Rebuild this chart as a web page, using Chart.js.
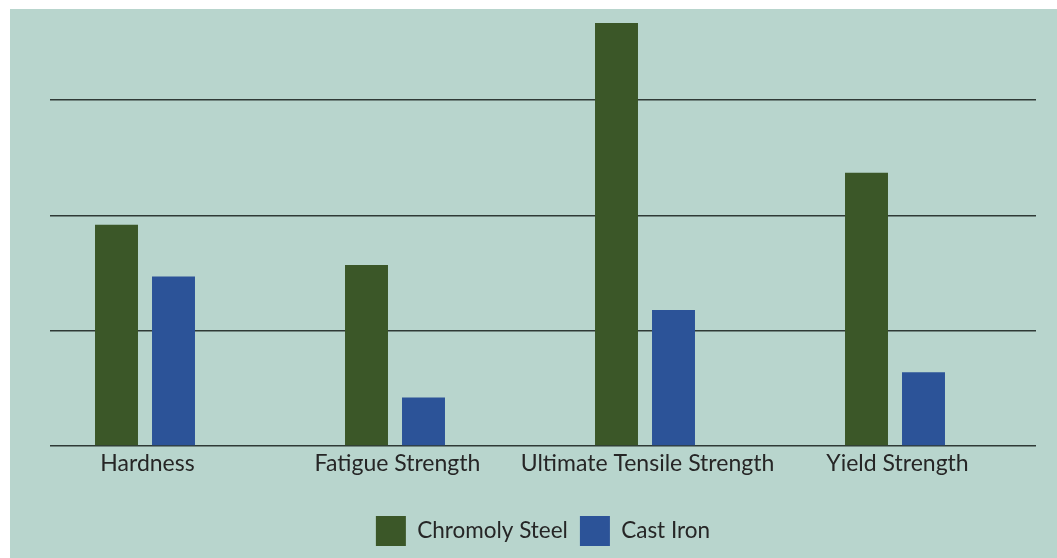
<!DOCTYPE html>
<html>
<head>
<meta charset="utf-8">
<script src="https://cdn.jsdelivr.net/npm/chart.js@4/dist/chart.umd.min.js"></script>
<style>
    html, body { margin: 0; padding: 0; background: #ffffff; }
    #wrap {
        position: absolute;
        left: 10px;
        top: 9px;
        width: 1047px;
        height: 549px;
        background: #b8d5cd;
    }
</style>
</head>
<body>
<div id="wrap"><canvas id="chart-canvas"></canvas></div>
<script>
const categories = ["Hardness", "Fatigue Strength", "Ultimate Tensile Strength", "Yield Strength"];
const chromolySteel = [192, 157, 367, 237];
const castIron = [147, 42, 118, 64];
const emptySeries = [null, null, null, null];
const yTicks = [0, 100, 200, 300];

// the category band is a bit wider than the gridlines (Excel leaves an empty 3rd slot)
const widenBand = {
    id: "widenBand",
    afterLayout(chart) {
        const x = chart.scales.x;
        x.left = 38.5;
        x.right = 1038.5;
        x.width = x.right - x.left;
        x.configure();
    }
};

document.addEventListener("DOMContentLoaded", function() {
    const ctx = document.getElementById("chart-canvas").getContext("2d");

    new Chart(ctx, {
        type: "bar",
        data: {
            labels: categories,
            datasets: [{
                label: "Chromoly Steel",
                data: chromolySteel,
                backgroundColor: "#3b5728"
            }, {
                label: "Cast Iron",
                data: castIron,
                backgroundColor: "#2c5398"
            }, {
                label: "",
                data: emptySeries,
                backgroundColor: "transparent"
            }]
        },
        plugins: [widenBand],
        options: {
            responsive: true,
            maintainAspectRatio: false,
            animation: false,
            datasets: {
                bar: {
                    categoryPercentage: 0.684,
                    barPercentage: 0.754
                }
            },
            layout: {
                padding: { left: 40, right: 21, top: 10.5, bottom: 2 }
            },
            plugins: {
                tooltip: { enabled: false },
                legend: {
                    position: "bottom",
                    labels: {
                        filter: (item) => item.text !== "",
                        boxWidth: 30,
                        boxHeight: 30,
                        padding: 12,
                        color: "#262626",
                        font: { family: "Lato", size: 22.5 }
                    }
                }
            },
            scales: {
                x: {
                    grid: { display: false, drawTicks: false },
                    border: { display: false },
                    afterFit: (axis) => { axis.height = 58; },
                    ticks: {
                        color: "#262626",
                        padding: 4,
                        labelOffset: -26,
                        maxRotation: 0,
                        autoSkip: false,
                        font: { family: "Lato", size: 23 }
                    }
                },
                y: {
                    min: 0,
                    max: 370,
                    border: { display: false },
                    ticks: {
                        display: false,
                        stepSize: 100
                    },
                    afterBuildTicks: (axis) => {
                        axis.ticks = yTicks.map(v => ({ value: v }));
                    },
                    grid: {
                        color: "#2f3a36",
                        lineWidth: 1.5,
                        drawTicks: false
                    }
                }
            }
        }
    });
});
</script>
</body>
</html>
